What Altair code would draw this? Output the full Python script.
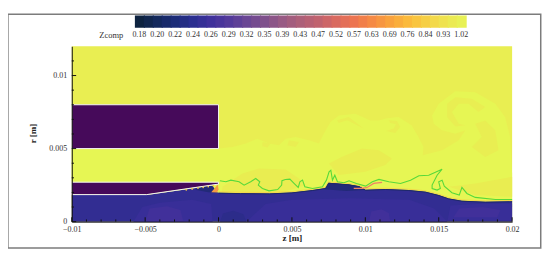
import altair as alt
import pandas as pd

# All geometry is in millimetres; converted to metres below.
Z_DOMAIN = [-0.01, 0.02]
R_DOMAIN = [0, 0.012]

BASE = "#e9ee52"
LIGHT = "#e6f654"
DARKER = "#e9ed51"
BLOCK = "#460a5a"
BLUE = "#322d92"
GREEN = "#58d93a"

levels = ["0.18", "0.20", "0.22", "0.24", "0.26", "0.29", "0.32", "0.35", "0.39", "0.43",
          "0.47", "0.52", "0.57", "0.63", "0.69", "0.76", "0.84", "0.93", "1.02"]
swatches = ["#0e2340", "#11264e", "#14295c", "#182a6a", "#1c2c78", "#242e84", "#2b2f90", "#353096",
            "#3f319b", "#49359b", "#533a9a", "#5e4097", "#6a4694", "#754b90", "#7f508c", "#8c5588",
            "#985a84", "#a35d7e", "#ad6079", "#b76174", "#c0636f", "#cd6668", "#d96a60", "#e36f58",
            "#ec7450", "#f17f4a", "#f58a45", "#f79641", "#f9a23d", "#faae3c", "#fbba3c", "#f9c540",
            "#f6cf45", "#f3d94a", "#efe24f", "#ebea52", "#e8f155"]

light_plume = [(-10, 5), (0, 5), (0.94, 5.11), (1.86, 5.34), (2.64, 5.68), (3.45, 5.34), (4.12, 5.23),
               (4.57, 5.68), (5.25, 5.8), (6.16, 5.57), (6.84, 5.34), (7.18, 6.03), (7.63, 6.82),
               (8.19, 7.27), (9.32, 7.39), (10.34, 6.93), (10.9, 6.93), (11.45, 7.07), (12.26, 7.16),
               (13.15, 6.59), (13.62, 5.79), (13.96, 5.11), (13.91, 4.55), (15.23, 4.89), (16.36, 5.57),
               (16.81, 6.25), (16.13, 6.02), (15.23, 6.25), (14.66, 6.7), (14.55, 7.27), (15.0, 8.07),
               (16.13, 8.93), (17.49, 8.86), (18.85, 8.07), (19.52, 7.16), (19.86, 5.8), (20, 3.3),
               (20, 1.0), (-10, 1.0)]
base_patches = [
    [(15.57, 8.07), (16.13, 8.52), (17.26, 8.41), (18.17, 7.84), (17.71, 7.5), (17.04, 8.07), (16.36, 8.07),
     (15.9, 7.5), (16.36, 6.7), (16.81, 6.59), (16.13, 6.52), (15.57, 7.16)],
    [(17.49, 6.7), (18.17, 6.93), (18.85, 6.25), (19.07, 4.89), (18.17, 4.43), (17.26, 5.11), (17.94, 5.8)],
    [(8.08, 6.94), (8.87, 7.16), (9.89, 6.37), (9.44, 6.6), (8.76, 6.94), (8.19, 6.75)],
    [(11.59, 6.94), (12.15, 6.89), (12.38, 6.48), (12.04, 6.07), (11.41, 6.21), (11.93, 6.37), (12.09, 6.66),
     (11.7, 6.75)],
    [(2.99, 5.45), (3.55, 5.34), (3.33, 5.07), (2.99, 5.16)],
    [(4.8, 5.57), (5.48, 5.45), (5.25, 5.11), (4.69, 5.23)],
    [(7.52, 3.98), (8.42, 4.44), (9.78, 5.0), (10.91, 4.89), (11.81, 4.32), (11.36, 3.87), (10.0, 3.41), (8.19, 3.19)],
    [(0.27, 2.39), (1.63, 3.3), (2.76, 3.64), (4.57, 3.57), (5.48, 2.95), (5.93, 2.5), (4.0, 1.9), (0.2, 1.9)],
    [(15.68, 2.39), (17.49, 2.61), (20, 3.07), (20, 1.7), (17.49, 1.82)],
]
interface_z = [-10, -4.9, -0.45, -0.2, 0, 1.5, 3.46, 5, 6.4, 7.3, 7.49, 8.89, 9.57, 10.02, 11.38, 12.96,
               14.1, 15.0, 15.68, 16.58, 18.17, 20]
interface_r = [1.82, 1.82, 2.45, 2.05, 1.98, 1.95, 1.93, 2.0, 2.16, 2.3, 2.66, 2.55, 2.43, 2.18, 2.23, 2.16,
               2.05, 1.82, 1.59, 1.43, 1.36, 1.39]
blue_light = [
    [(-5.8, 0), (-5.2, 1.0), (-4, 1.3), (-1.8, 1.5), (-0.5, 1.2), (-0.4, 0)],
    [(0.5, 0), (1.9, 0), (3.2, 1.2), (5.0, 1.5), (9.0, 1.6), (13.0, 1.5), (14.7, 0.9), (15.6, 0)],
    [(15.6, 0.1), (15.8, 1.1), (17.5, 1.2), (20, 1.25), (20, 0.1)],
]
blue_strong = [
    [(10.25, 0), (10.4, 0.7), (11.1, 0.85), (11.6, 0.6), (11.7, 0)],
    [(16.0, 0.3), (16.4, 0.9), (18.0, 1.0), (19.2, 0.8), (19.0, 0.3)],
    [(-5.0, 0), (-4.7, 0.9), (-3.5, 1.05), (-2.6, 0.8), (-2.4, 0)],
]
blue_soft_dark = [(0.1, 0), (0.3, 0.55), (1.0, 0.75), (1.7, 0.5), (1.9, 0)]
blue_dark = [
    [(-1.6, 2.18), (-0.7, 2.02), (-0.1, 1.98), (-0.4, 2.45), (-0.9, 2.42)],
    [(7.2, 2.22), (7.49, 2.66), (8.89, 2.55), (9.57, 2.43), (10.0, 2.16), (8.7, 2.1)],
]
lower_block = [(-10, 1.85), (-4.9, 1.85), (0, 2.57), (0, 2.7), (-10, 2.7)]
orange_tip = [(-0.5, 2.02), (-0.05, 2.55), (0.0, 2.2), (-0.1, 2.0)]
streak = [(9.21, 2.28), (9.78, 2.28), (10.12, 2.34), (10.57, 2.62), (11.14, 2.69)]
dots_z = [-2.2, -1.8, -1.4, -1.05, -0.7, -0.35]
dots_r = [2.18, 2.24, 2.3, 2.35, 2.4, 2.45]
green_front = [(0.09, 2.8), (0.5, 2.73), (0.84, 2.84), (1.4, 2.73), (1.74, 2.5), (2.19, 2.73), (2.53, 2.95),
               (2.81, 2.73), (2.71, 2.5), (2.99, 2.27), (3.44, 2.11), (4.03, 2.2), (4.3, 2.5), (4.32, 2.8),
               (4.55, 2.89), (4.86, 2.91), (5.16, 2.61), (5.43, 2.34), (5.54, 2.73), (5.72, 2.84), (5.88, 2.39),
               (6.4, 2.27), (7.08, 2.39), (7.35, 2.84), (7.53, 3.41), (7.65, 3.52), (7.76, 2.84), (7.92, 3.18),
               (8.1, 2.73), (8.55, 2.66), (8.89, 2.8), (9.39, 2.61), (10.02, 2.43), (10.48, 2.73), (10.93, 2.89),
               (11.6, 2.73), (12.4, 2.61), (13.08, 2.84), (13.65, 3.14), (14.32, 3.18), (15.23, 3.59), (14.89, 3.18),
               (14.55, 2.5), (14.55, 2.27), (14.89, 2.16), (15.11, 2.27), (15.0, 2.73), (15.23, 2.84), (15.38, 2.43),
               (15.9, 1.98), (16.4, 1.82), (16.58, 2.34), (16.92, 1.93), (17.49, 1.66), (18.86, 1.52), (20, 1.52)]
x_major = [-10, -5, 0, 5, 10, 15, 20]
x_minor = [-9, -8, -7, -6, -4, -3, -2, -1, 1, 2, 3, 4, 6, 7, 8, 9, 11, 12, 13, 14, 16, 17, 18, 19]
y_major = [0, 5, 10]
y_minor = [1, 2, 3, 4, 6, 7, 8, 9, 11]
bar_left_z = -5.70
swatch_step_z = 0.609
bar_r = (13.27, 14.11)
label_r = 12.8
frame = (-14.35, 21.95, -1.8, 14.2)

X_SCALE = alt.Scale(domain=Z_DOMAIN, nice=False, zero=False)
Y_SCALE = alt.Scale(domain=R_DOMAIN, nice=False, zero=False)
X = alt.X("z:Q", scale=X_SCALE,
          axis=alt.Axis(values=[v / 1000 for v in x_major], format="~g", tickSize=0, grid=False, labelFont="Liberation Serif",
                        labelFontSize=8, labelColor="#333", labelPadding=4, domainColor="#111", domainWidth=1,
                        labelFlush=False, title="z [m]", titleFont="Liberation Serif", titleFontSize=9, titleFontWeight="bold",
                        titleColor="#222", titleX=221, titleY=16, titleBaseline="middle", zindex=1))
Y = alt.Y("r:Q", scale=Y_SCALE,
          axis=alt.Axis(values=[v / 1000 for v in y_major], format="~g", tickSize=0, grid=False, labelFont="Liberation Serif",
                        labelFontSize=8, labelColor="#333", labelPadding=5, domainColor="#111", domainWidth=1,
                        labelFlush=False, title="r [m]", titleFont="Liberation Serif", titleFontSize=9, titleFontWeight="bold",
                        titleColor="#222", titleX=-39, titleY=87, titleBaseline="middle", titleAngle=270, zindex=1))


def frame_of(points):
    return pd.DataFrame({"z": [p[0] / 1000 for p in points], "r": [p[1] / 1000 for p in points], "i": range(len(points))})


def polygon(points, color):
    return (alt.Chart(frame_of(list(points) + [points[0]]))
            .mark_line(filled=True, fill=color, color=color, strokeWidth=0, interpolate="linear")
            .encode(x=X, y=Y, order=alt.Order("i:Q")))


def curve(points, color, width):
    return (alt.Chart(frame_of(points)).mark_line(color=color, strokeWidth=width, interpolate="linear")
            .encode(x=X, y=Y, order=alt.Order("i:Q")))


def box(z0, z1, r0, r1, **style):
    df = pd.DataFrame({"z": [z0 / 1000], "z2": [z1 / 1000], "r": [r0 / 1000], "r2": [r1 / 1000]})
    return alt.Chart(df).mark_rect(**style).encode(x=X, x2="z2:Q", y=Y, y2="r2:Q")


layers = [box(-10, 20, 0, 12, color=BASE), polygon(light_plume, LIGHT)]
for patch in base_patches[:6]:
    layers.append(polygon(patch, BASE))
for patch in base_patches[6:]:
    layers.append(polygon(patch, DARKER))

interface = pd.DataFrame({"z": [v / 1000 for v in interface_z], "r": [v / 1000 for v in interface_r], "zero": 0.0})
layers.append(alt.Chart(interface).mark_area(color=BLUE, interpolate="linear").encode(x=X, y=Y, y2="zero:Q"))
for patch in blue_light:
    layers.append(polygon(patch, "#382e98"))
for patch in blue_strong:
    layers.append(polygon(patch, "#41309a"))
layers.append(polygon(blue_soft_dark, "#2c2c8a"))
for patch in blue_dark:
    layers.append(polygon(patch, "#222a78"))

pts = list(zip(interface_z, interface_r))
jet_edge = [p for p in pts if p[0] >= 0]
layers.append(curve([(a, b + 0.06) for a, b in jet_edge], "#f5cf48", 0.8))
layers.append(curve([(a, b - 0.03) for a, b in jet_edge], "#1d2868", 1.0))
layers.append(polygon(orange_tip, "#f59a45"))
layers.append(curve(streak, "#ef8264", 1.2))

layers.append(polygon(lower_block, BLOCK))
layers.append(curve(lower_block + [lower_block[0]], "#f4f4f4", 1.0))
layers.append(box(-10, 0, 5, 8, color=BLOCK, stroke="#f4f4f4", strokeWidth=1))
dots = pd.DataFrame({"z": [v / 1000 for v in dots_z], "r": [v / 1000 for v in dots_r]})
layers.append(alt.Chart(dots).mark_circle(color="#f6c544", size=3, opacity=1).encode(x=X, y=Y))
layers.append(curve(green_front, GREEN, 1.1))


# inward ticks (Tecplot style)
def x_ticks(values, length):
    df = pd.DataFrame({"z": [v / 1000 for v in values], "r": 0.0, "r2": length / 1000})
    return alt.Chart(df).mark_rule(color="#111", strokeWidth=1).encode(x=X, y=Y, y2="r2:Q")


def y_ticks(values, length):
    df = pd.DataFrame({"r": [v / 1000 for v in values], "z": -0.01, "z2": -0.01 + length / 1000})
    return alt.Chart(df).mark_rule(color="#111", strokeWidth=1).encode(y=Y, x=X, x2="z2:Q")


layers += [x_ticks(x_major, 0.3), x_ticks(x_minor, 0.15), y_ticks(y_major, 0.3), y_ticks(y_minor, 0.15)]

# colour bar
bar = pd.DataFrame({
    "z": [(bar_left_z + i * swatch_step_z) / 1000 for i in range(len(swatches))],
    "z2": [(bar_left_z + (i + 1.12) * swatch_step_z) / 1000 for i in range(len(swatches))],
    "r": bar_r[0] / 1000, "r2": bar_r[1] / 1000, "c": swatches})
layers.append(alt.Chart(bar).mark_rect(strokeWidth=0).encode(
    x=X, x2="z2:Q", y=Y, y2="r2:Q", color=alt.Color("c:N", scale=None, legend=None)))
labels = pd.DataFrame({
    "z": [(bar_left_z + (i * 2 + 0.5) * swatch_step_z) / 1000 for i in range(len(levels))],
    "r": label_r / 1000, "t": levels})
layers.append(alt.Chart(labels).mark_text(font="Liberation Serif", fontSize=8, color="#333", baseline="middle").encode(x=X, y=Y, text="t:N"))
layers.append(alt.Chart(pd.DataFrame({"z": [-6.49 / 1000], "r": [label_r / 1000], "t": ["Zcomp"]}))
              .mark_text(font="Liberation Serif", fontSize=8.5, color="#333", align="right", baseline="middle").encode(x=X, y=Y, text="t:N"))

# figure frame
layers.append(box(frame[0], frame[1], frame[2], frame[3], fillOpacity=0, stroke="#7c7c7c", strokeWidth=1.5))

chart = (alt.layer(*layers)
         .properties(width=442, height=176, background="white",
                     autosize=alt.AutoSizeParams(type="none"),
                     padding={"left": 64, "top": 38, "right": 30, "bottom": 27})
         .configure_view(stroke=None))
chart.save("out.html", embed_options={"renderer": "svg", "actions": False})
